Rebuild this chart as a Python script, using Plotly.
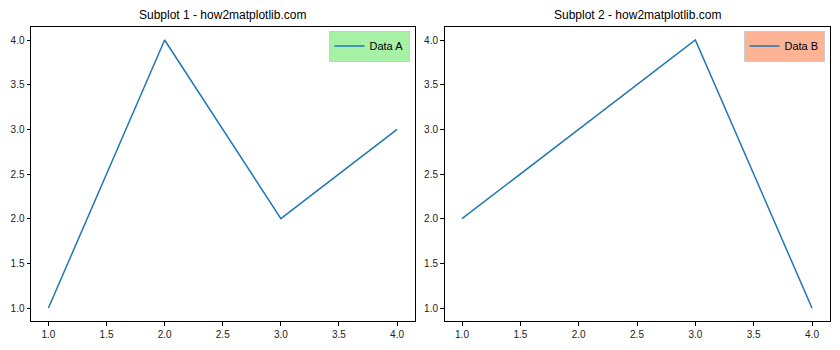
import plotly.graph_objects as go

x_vals = [1, 2, 3, 4]
data_a = [1, 4, 2, 3]
data_b = [2, 3, 4, 1]
titles = ["Subplot 1 - how2matplotlib.com", "Subplot 2 - how2matplotlib.com"]
tick_vals = [1.0, 1.5, 2.0, 2.5, 3.0, 3.5, 4.0]

FONT = "Liberation Sans"
W, H = 840, 350
fig = go.Figure()
fig.add_trace(go.Scatter(x=x_vals, y=data_a, mode="lines", name="Data A", showlegend=True,
                         line=dict(color="#1f77b4", width=1.5), xaxis="x", yaxis="y", legend="legend"))
fig.add_trace(go.Scatter(x=x_vals, y=data_b, mode="lines", name="Data B", showlegend=True,
                         line=dict(color="#1f77b4", width=1.5), xaxis="x2", yaxis="y2", legend="legend2"))

dom_x1 = [31 / W, 414.5 / W]
dom_x2 = [444.5 / W, 829.5 / W]
dom_y = [1 - 321.4 / H, 1 - 26.6 / H]

axis_common = dict(showline=True, linecolor="black", linewidth=1, mirror=True, ticks="outside",
                   ticklen=3.5, tickwidth=1, tickcolor="black", showgrid=False, zeroline=False,
                   tickvals=tick_vals, tickformat=".1f", tickfont=dict(family=FONT, size=10, color="#222"))

leg_common = dict(xanchor="right", yanchor="top", bordercolor="#cccccc", borderwidth=1,
                  itemwidth=30, tracegroupgap=0,
                  font=dict(family=FONT, size=11, color="black"))

fig.update_layout(
    width=W, height=H, margin=dict(l=0, r=0, t=0, b=0), showlegend=True,
    plot_bgcolor="white", paper_bgcolor="white",
    xaxis=dict(domain=dom_x1, range=[0.85, 4.15], anchor="y", **axis_common),
    yaxis=dict(domain=dom_y, range=[0.85, 4.15], anchor="x", **axis_common),
    xaxis2=dict(domain=dom_x2, range=[0.85, 4.15], anchor="y2", **axis_common),
    yaxis2=dict(domain=dom_y, range=[0.85, 4.15], anchor="x2", **axis_common),
    legend=dict(x=dom_x1[1] - 5 / W, y=dom_y[1] - 4 / H, bgcolor="#A6F1A6", **leg_common),
    legend2=dict(x=dom_x2[1] - 5 / W, y=dom_y[1] - 4 / H, bgcolor="#FFB395", **leg_common),
    annotations=[
        dict(text=titles[0], x=(dom_x1[0] + dom_x1[1]) / 2, y=1 - 15 / H, xref="paper", yref="paper",
             showarrow=False, font=dict(family=FONT, size=12, color="black"), xanchor="center", yanchor="middle"),
        dict(text=titles[1], x=(dom_x2[0] + dom_x2[1]) / 2, y=1 - 15 / H, xref="paper", yref="paper",
             showarrow=False, font=dict(family=FONT, size=12, color="black"), xanchor="center", yanchor="middle"),
    ],
)
fig.write_html("out.html")
